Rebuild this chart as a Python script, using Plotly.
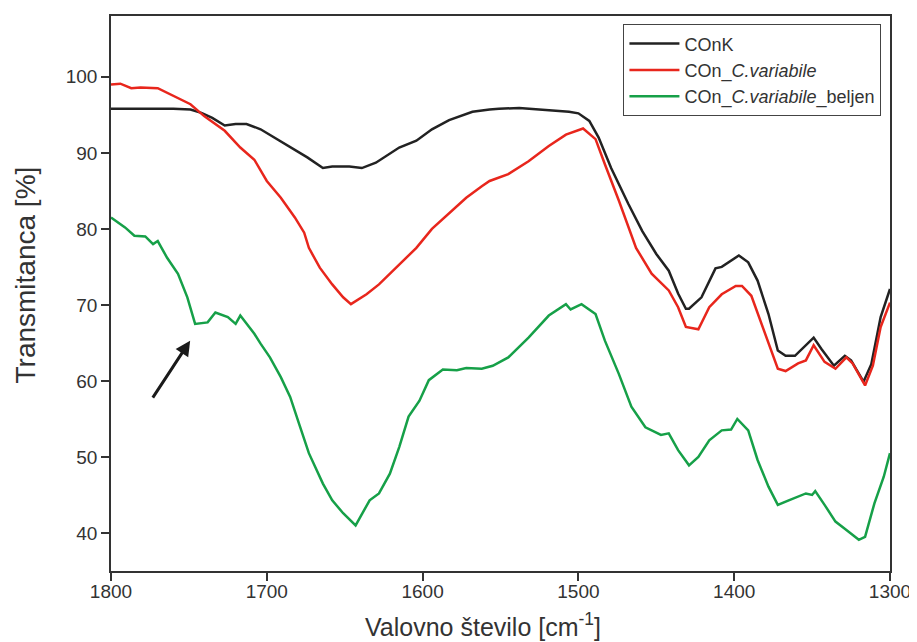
import plotly.graph_objects as go

x_conk = [1800, 1790, 1775, 1760, 1749, 1742, 1735, 1727, 1720, 1713, 1704, 1691, 1679, 1674, 1664, 1658, 1647, 1639, 1630, 1615, 1604, 1594, 1583, 1568, 1557, 1551, 1538, 1525, 1506, 1500, 1493, 1487, 1479, 1468, 1459, 1450, 1442, 1436, 1431, 1429, 1421, 1412, 1408, 1397, 1391, 1385, 1378, 1372, 1367, 1361, 1354, 1349, 1344, 1336, 1329, 1325, 1317, 1312, 1306, 1300]
y_conk = [95.8, 95.8, 95.8, 95.8, 95.7, 95.25, 94.6, 93.6, 93.8, 93.8, 93.1, 91.5, 90.0, 89.4, 88.0, 88.2, 88.2, 88.0, 88.7, 90.7, 91.6, 93.1, 94.3, 95.4, 95.7, 95.8, 95.9, 95.7, 95.4, 95.2, 94.2, 92.0, 88.0, 83.3, 79.7, 76.7, 74.5, 71.5, 69.5, 69.5, 71.0, 74.8, 75.0, 76.5, 75.6, 73.2, 68.8, 64.0, 63.3, 63.3, 64.7, 65.7, 64.2, 62.0, 63.3, 62.7, 59.9, 62.2, 68.4, 72.1]

x_cv = [1800, 1794, 1787, 1781, 1770, 1759, 1749, 1740, 1727, 1717, 1708, 1700, 1691, 1682, 1676, 1673, 1666, 1658, 1651, 1646, 1636, 1628, 1621, 1615, 1604, 1594, 1583, 1572, 1562, 1557, 1545, 1532, 1519, 1508, 1497, 1489, 1483, 1474, 1463, 1453, 1442, 1436, 1431, 1423, 1416, 1408, 1399, 1395, 1389, 1383, 1376, 1372, 1367, 1359, 1354, 1349, 1342, 1335, 1328, 1324, 1316, 1311, 1306, 1300]
y_cv = [99.0, 99.1, 98.5, 98.6, 98.5, 97.4, 96.4, 94.8, 92.9, 90.7, 89.1, 86.3, 84.1, 81.5, 79.5, 77.5, 74.9, 72.7, 71.0, 70.1, 71.4, 72.7, 74.1, 75.4, 77.5, 80.0, 82.1, 84.1, 85.6, 86.3, 87.2, 88.9, 90.9, 92.4, 93.2, 91.8, 88.5, 83.7, 77.5, 74.1, 71.9, 69.7, 67.1, 66.8, 69.7, 71.4, 72.5, 72.5, 71.2, 67.9, 64.0, 61.6, 61.3, 62.3, 62.7, 64.7, 62.5, 61.6, 63.1, 62.3, 59.4, 62.0, 67.1, 70.3]

x_cvb = [1800, 1791, 1785, 1778, 1773, 1770, 1764, 1757, 1751, 1746, 1738, 1733, 1725, 1720, 1717, 1708, 1704, 1698, 1691, 1685, 1679, 1673, 1664, 1658, 1651, 1643, 1634, 1628, 1621, 1615, 1609, 1602, 1596, 1587, 1578, 1572, 1562, 1555, 1545, 1532, 1519, 1508, 1505, 1498, 1489, 1483, 1474, 1466, 1457, 1447, 1442, 1436, 1429, 1423, 1416, 1408, 1402, 1398, 1391, 1385, 1378, 1372, 1365, 1357, 1354, 1350, 1348, 1342, 1335, 1328, 1320, 1316, 1310, 1304, 1300]
y_cvb = [81.5, 80.2, 79.1, 79.0, 78.0, 78.4, 76.2, 74.1, 71.0, 67.5, 67.7, 69.0, 68.4, 67.5, 68.6, 66.2, 64.9, 63.1, 60.5, 57.9, 54.2, 50.5, 46.5, 44.3, 42.6, 41.0, 44.3, 45.2, 47.8, 51.3, 55.3, 57.4, 60.1, 61.5, 61.4, 61.7, 61.6, 62.0, 63.1, 65.7, 68.6, 70.1, 69.4, 70.1, 68.8, 65.3, 60.9, 56.6, 53.9, 52.9, 53.1, 50.9, 48.9, 50.0, 52.2, 53.5, 53.6, 55.0, 53.5, 49.6, 46.1, 43.7, 44.3, 45.0, 45.2, 45.0, 45.5, 43.7, 41.5, 40.4, 39.1, 39.5, 43.9, 47.4, 50.5]

names = ["COnK", "COn_<i>C.variabile</i>", "COn_<i>C.variabile</i>_beljen"]
colors = ["#222222", "#e8261c", "#16a048"]

x_ticks = [1800, 1700, 1600, 1500, 1400, 1300]
y_ticks = [40, 50, 60, 70, 80, 90, 100]

x_title = "Valovno število [cm<sup>-1</sup>]"
y_title = "Transmitanca [%]"

arrow_tail = (1773.8, 57.6)
arrow_head = (1749.2, 65.3)

FONT = "Liberation Sans, Arial"

fig = go.Figure()
for xs, ys, n, c in zip([x_conk, x_cv, x_cvb], [y_conk, y_cv, y_cvb], names, colors):
    fig.add_trace(go.Scatter(x=xs, y=ys, mode="lines", name=n,
                             line=dict(color=c, width=2.5)))

fig.add_annotation(x=arrow_head[0], y=arrow_head[1], ax=arrow_tail[0], ay=arrow_tail[1],
                   xref="x", yref="y", axref="x", ayref="y", text="", showarrow=True,
                   arrowhead=2, arrowsize=1, arrowwidth=3, arrowcolor="#1a1a1a")

fig.add_annotation(text=x_title, xref="paper", yref="paper", x=0.477, y=-0.097,
                   showarrow=False, xanchor="center", yanchor="middle",
                   font=dict(family=FONT, size=25, color="#333333"))
fig.add_annotation(text=y_title, xref="paper", yref="paper", x=-0.110, y=0.533,
                   showarrow=False, xanchor="center", yanchor="middle", textangle=-90,
                   font=dict(family=FONT, size=28, color="#333333"))

axis_common = dict(showline=True, linecolor="#333333", linewidth=1.5, mirror=True,
                   ticks="outside", ticklen=8, tickwidth=1.5, tickcolor="#333333",
                   showgrid=False, zeroline=False,
                   tickfont=dict(family=FONT, size=19, color="#333333"))

fig.update_layout(
    width=909, height=634,
    margin=dict(l=103, r=25, t=6, b=71),
    paper_bgcolor="white", plot_bgcolor="white",
    font=dict(family=FONT, color="#333333"),
    xaxis=dict(range=[1800, 1300], tickvals=x_ticks, ticklabelstandoff=-6, **axis_common),
    yaxis=dict(range=[35, 108], tickvals=y_ticks, **axis_common),
    legend=dict(x=0.989, y=0.985, xanchor="right", yanchor="top",
                bgcolor="white", bordercolor="#444444", borderwidth=1,
                font=dict(family=FONT, size=18, color="#333333"),
                itemwidth=50, tracegroupgap=0),
    showlegend=True,
)

fig.write_html("out.html")
